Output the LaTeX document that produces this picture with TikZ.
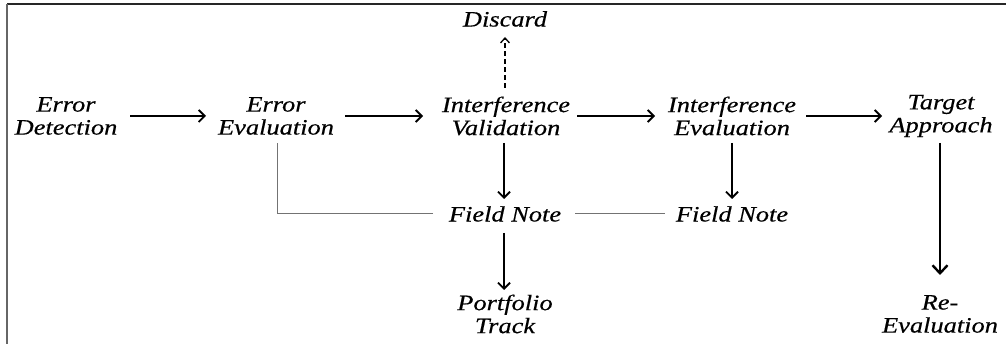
\documentclass[tikz,border=0pt]{standalone}
\usepackage{fontspec}
\setmainfont{Liberation Serif}
\newfontfamily\lblfont{Liberation Serif}[FakeStretch=1.2, FakeBold=0.4]
\usetikzlibrary{arrows.meta}
\begin{document}
\begin{tikzpicture}[x=1pt,y=-1pt,
  lbl/.style={font=\lblfont\itshape\fontsize{22}{23}\selectfont, align=center, inner sep=0pt},
  flow/.style={line width=1.8pt, -{Straight Barb[length=6pt,width=12pt]}},
  bigflow/.style={line width=2.4pt, -{Straight Barb[length=8pt,width=15pt]}},
  maybe/.style={line width=1.3pt, dash pattern=on 5pt off 3pt, -{Straight Barb[length=5pt,width=9pt]}},
  link/.style={line width=1pt, draw=black!55}
]
\useasboundingbox (0,0) rectangle (1006,344);

% frame edges
\draw[line width=2pt, black!85] (7,4) -- (1006,4);
\draw[line width=2pt, black!60] (7,4) -- (7,344);

% stages
\node[lbl] (ed)  at (66,116)  {Error\\Detection};
\node[lbl] (ee)  at (276,116) {Error\\Evaluation};
\node[lbl] (iv)  at (506,116) {Interference\\Validation};
\node[lbl] (ie)  at (732,116) {Interference\\Evaluation};
\node[lbl] (ta)  at (941,116) {Target\\Approach};
\node[lbl] (dis) at (505,19)  {Discard};
\node[lbl] (fn1) at (505,214) {Field Note};
\node[lbl] (fn2) at (732,214) {Field Note};
\node[lbl] (pt)  at (505,314) {Portfolio\\Track};
\node[lbl] (re)  at (940,314) {Re-\\Evaluation};

% main chain
\draw[flow] ([xshift=64pt]ed.center) -- ([xshift=-70pt]ee.center);
\draw[flow] ([xshift=69pt]ee.center) -- ([xshift=-83pt]iv.center);
\draw[flow] ([xshift=71pt]iv.center) -- ([xshift=-77pt]ie.center);
\draw[flow] ([xshift=74pt]ie.center) -- ([xshift=-59pt]ta.center);

% branches
\draw[maybe] ([xshift=-1pt,yshift=28pt]iv.center) -- ([yshift=-18pt]dis.center);
\draw[flow] ([xshift=-2pt,yshift=-27pt]iv.center) -- ([xshift=-1pt,yshift=15pt]fn1.center);
\draw[flow] ([yshift=-27pt]ie.center) -- ([yshift=15pt]fn2.center);
\draw[flow] ([xshift=-1pt,yshift=-19pt]fn1.center) -- ([xshift=-1pt,yshift=24pt]pt.center);
\draw[bigflow] ([xshift=-1pt,yshift=-27pt]ta.center) -- ([yshift=39pt]re.center);

% note links
\draw[link] ([xshift=-72pt]fn1.center) -| ([xshift=1pt,yshift=-27pt]ee.center);
\draw[link] ([xshift=70pt]fn1.center) -- ([xshift=-67pt]fn2.center);
\end{tikzpicture}
\end{document}
